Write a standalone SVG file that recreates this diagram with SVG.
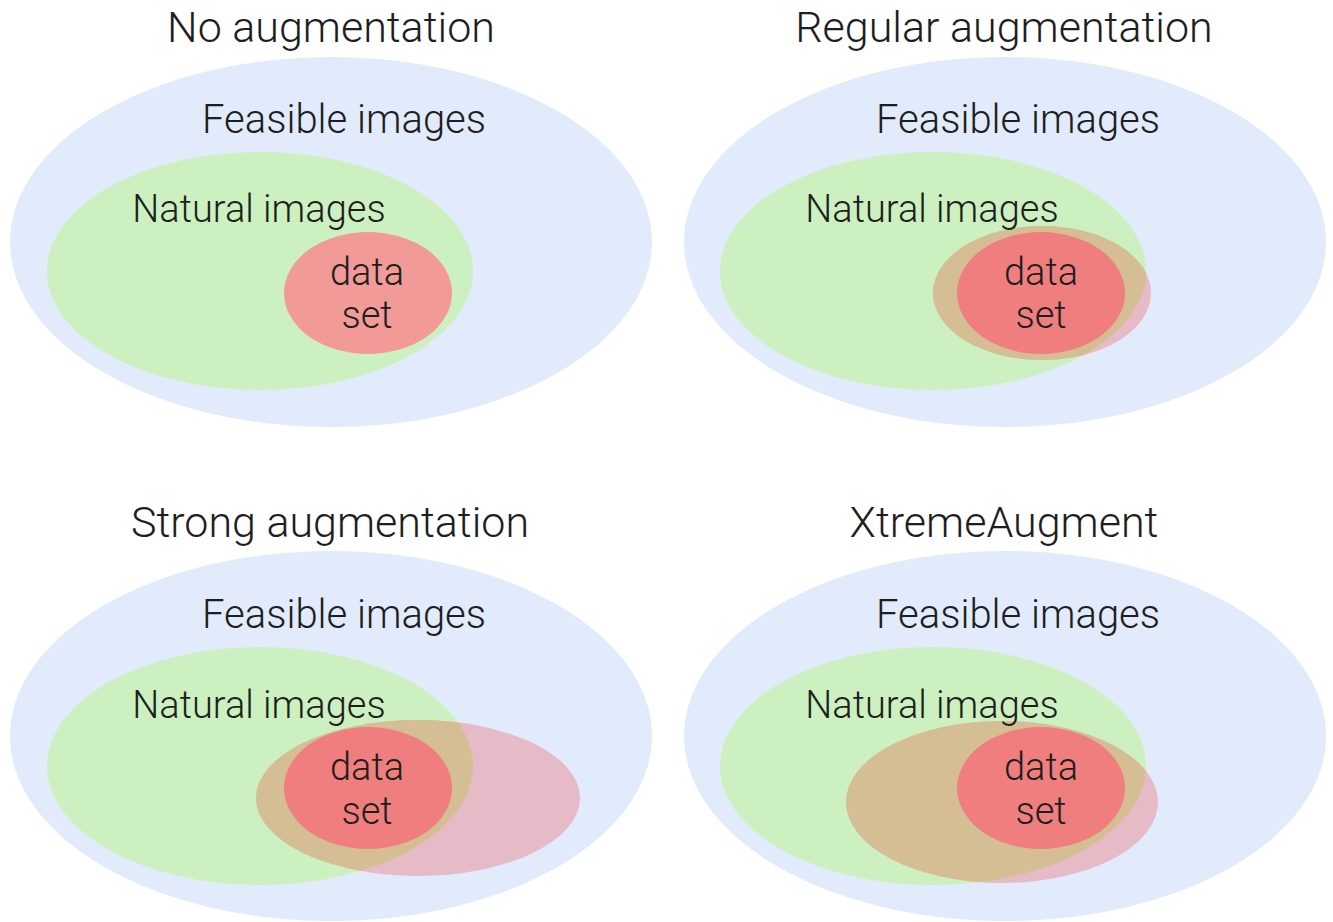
<svg xmlns="http://www.w3.org/2000/svg" width="1333" height="922" viewBox="0 0 1333 922">
<style>
text{font-family:Roboto,"Liberation Sans",sans-serif;font-weight:300;fill:#1e1e1e;text-anchor:middle}
.t{font-size:43px}
.l{font-size:40px}
.n{font-size:38px}
.blue{fill:#E1EBFB}
.green{fill:#CDF0C0}
.pink{fill:#E6BAC6}
.tan{fill:#D5BE94}
.red{fill:#F07E7E}
.red1{fill:#F29A98}
</style>
<defs>
<clipPath id="gTop"><ellipse cx="933" cy="271" rx="213" ry="119"/></clipPath>
<clipPath id="gBL"><ellipse cx="260" cy="766" rx="213" ry="119"/></clipPath>
<clipPath id="gBR"><ellipse cx="933" cy="766" rx="213" ry="119"/></clipPath>
</defs>
<rect width="1333" height="922" fill="#fff"/>
<g id="panel-no-aug">
<text class="t" x="331" y="42">No augmentation</text>
<ellipse class="blue" cx="331" cy="242" rx="321" ry="185"/>
<ellipse class="green" cx="260" cy="271" rx="213" ry="119"/>
<ellipse class="red1" cx="368" cy="293" rx="84" ry="61"/>
<text class="l" x="344" y="133">Feasible images</text>
<text class="n" x="259" y="222">Natural images</text>
<text class="n" x="367" y="285">data</text>
<text class="n" x="367" y="328">set</text>
</g>
<g id="panel-regular">
<text class="t" x="1004" y="42">Regular augmentation</text>
<ellipse class="blue" cx="1005" cy="242" rx="321" ry="185"/>
<ellipse class="green" cx="933" cy="271" rx="213" ry="119"/>
<ellipse class="pink" cx="1042" cy="293" rx="109" ry="67"/>
<ellipse class="tan" cx="1042" cy="293" rx="109" ry="67" clip-path="url(#gTop)"/>
<ellipse class="red" cx="1041" cy="293" rx="84" ry="61"/>
<text class="l" x="1018" y="133">Feasible images</text>
<text class="n" x="932" y="222">Natural images</text>
<text class="n" x="1041" y="285">data</text>
<text class="n" x="1041" y="328">set</text>
</g>
<g id="panel-strong">
<text class="t" x="330" y="537">Strong augmentation</text>
<ellipse class="blue" cx="331" cy="736" rx="321" ry="185"/>
<ellipse class="green" cx="260" cy="766" rx="213" ry="119"/>
<ellipse class="pink" cx="418" cy="798" rx="162" ry="78"/>
<ellipse class="tan" cx="418" cy="798" rx="162" ry="78" clip-path="url(#gBL)"/>
<ellipse class="red" cx="368" cy="788" rx="84" ry="61"/>
<text class="l" x="344" y="628">Feasible images</text>
<text class="n" x="259" y="718">Natural images</text>
<text class="n" x="367" y="780">data</text>
<text class="n" x="367" y="824">set</text>
</g>
<g id="panel-xtreme">
<text class="t" x="1004" y="537">XtremeAugment</text>
<ellipse class="blue" cx="1005" cy="736" rx="321" ry="185"/>
<ellipse class="green" cx="933" cy="766" rx="213" ry="119"/>
<ellipse class="pink" cx="1002" cy="802" rx="156" ry="81"/>
<ellipse class="tan" cx="1002" cy="802" rx="156" ry="81" clip-path="url(#gBR)"/>
<ellipse class="red" cx="1041" cy="788" rx="84" ry="61"/>
<text class="l" x="1018" y="628">Feasible images</text>
<text class="n" x="932" y="718">Natural images</text>
<text class="n" x="1041" y="780">data</text>
<text class="n" x="1041" y="824">set</text>
</g>
<g id="connectors"/>
</svg>
